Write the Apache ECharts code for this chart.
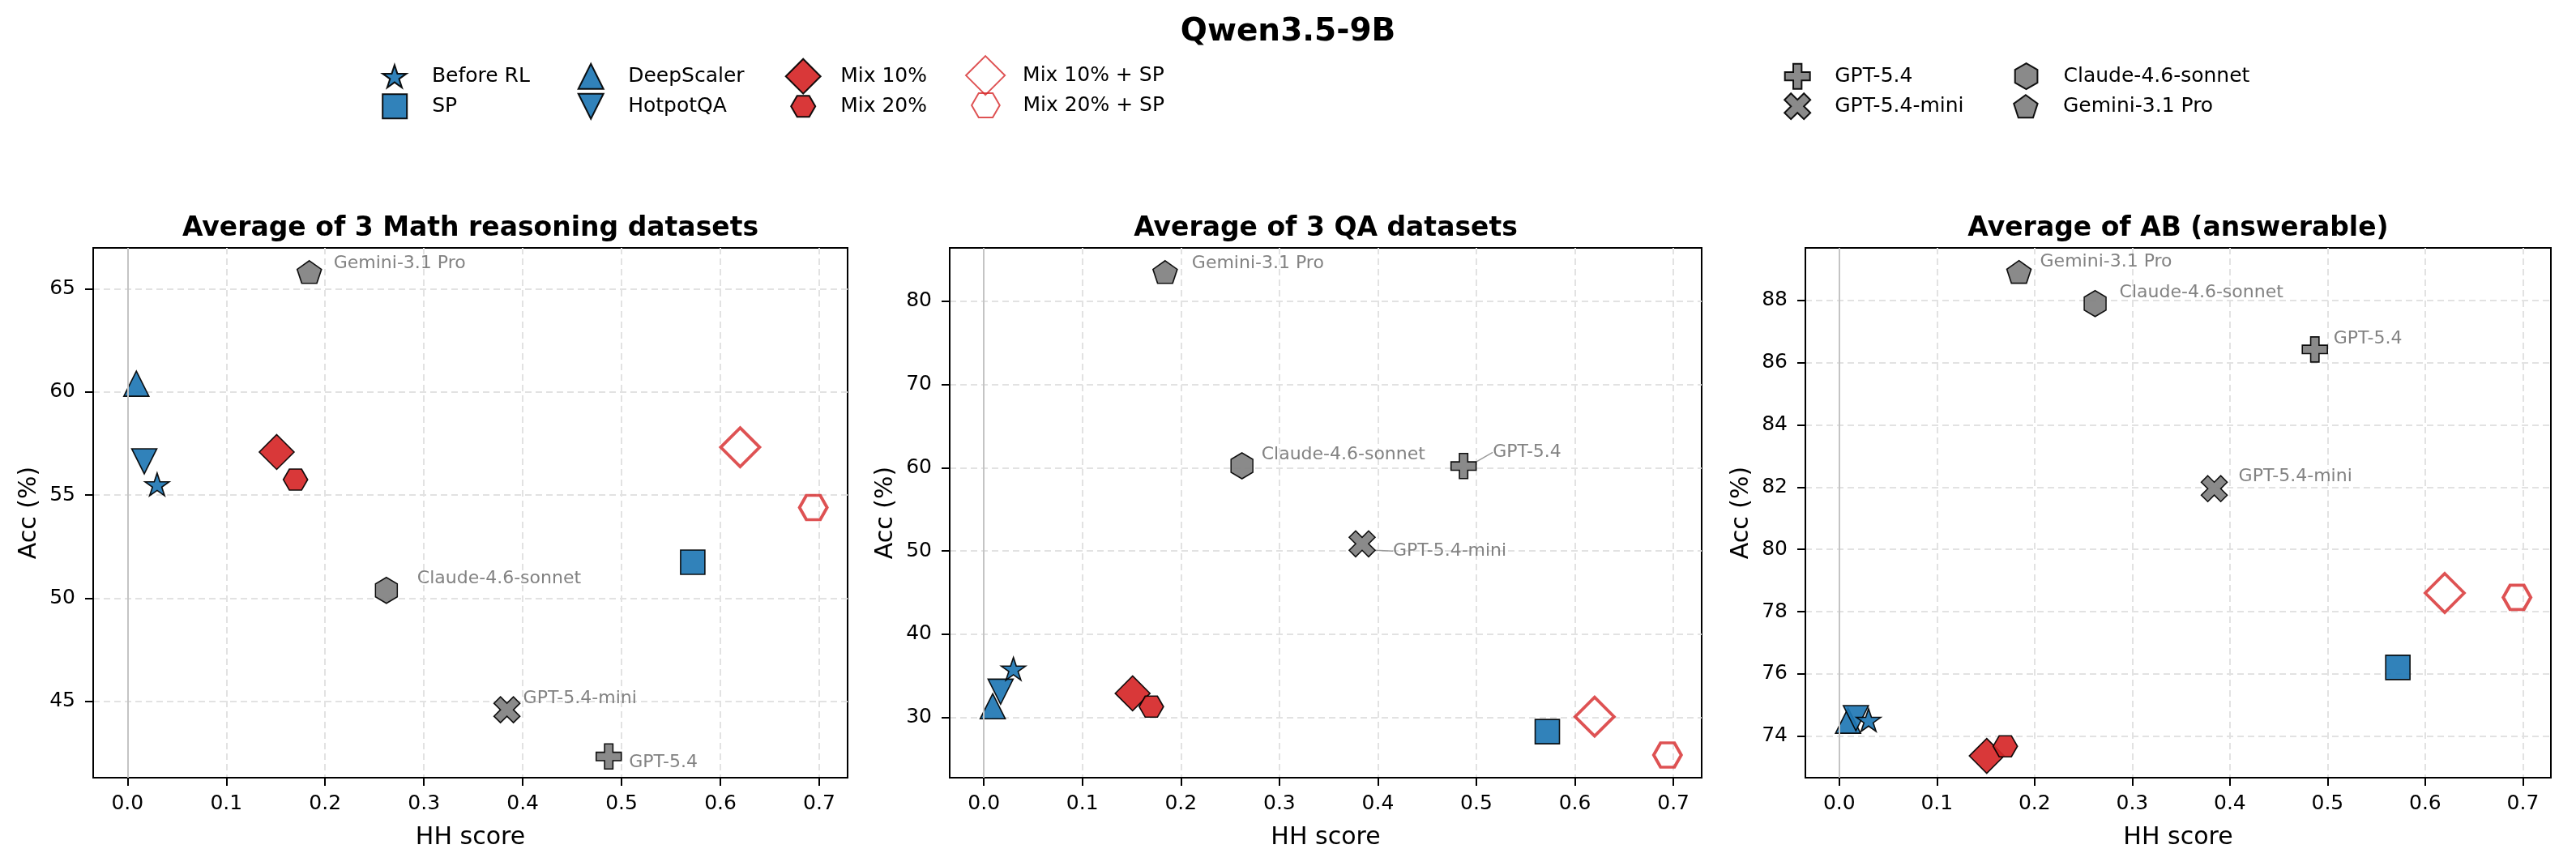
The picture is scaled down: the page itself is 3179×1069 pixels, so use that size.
<!DOCTYPE html>
<html>
<head>
<meta charset="utf-8">
<title>Qwen3.5-9B</title>
<script src="https://cdn.jsdelivr.net/npm/echarts@6/dist/echarts.min.js"></script>
<style>
  html, body { margin: 0; padding: 0; background: #fff; }
  #main { width: 3179px; height: 1069px; }
</style>
</head>
<body>
<div id="main"></div>
<script>
// data
const methods = ['Before RL', 'SP', 'DeepScaler', 'HotpotQA', 'Mix 10%', 'Mix 20%',
  'Mix 10% + SP', 'Mix 20% + SP', 'GPT-5.4', 'GPT-5.4-mini', 'Claude-4.6-sonnet', 'Gemini-3.1 Pro'];
const hhScore = [0.030, 0.572, 0.009, 0.017, 0.151, 0.170, 0.620, 0.694, 0.487, 0.384, 0.262, 0.184];
const mathAcc = [55.52, 51.75, 60.40, 56.64, 57.09, 55.75, 57.32, 54.40, 42.34, 44.60, 50.39, 65.81];
const qaAcc = [35.85, 28.30, 31.35, 33.10, 32.90, 31.30, 30.10, 25.50, 60.20, 50.86, 60.23, 83.50];
const abAcc = [74.52, 76.21, 74.50, 74.58, 73.37, 73.68, 78.60, 78.46, 86.42, 81.95, 87.89, 88.91];

const hhTicks = [0, 0.1, 0.2, 0.3, 0.4, 0.5, 0.6, 0.7];
const mathTicks = [45, 50, 55, 60, 65];
const qaTicks = [30, 40, 50, 60, 70, 80];
const abTicks = [74, 76, 78, 80, 82, 84, 86, 88];

const panelTitles = ['Average of 3 Math reasoning datasets', 'Average of 3 QA datasets', 'Average of AB (answerable)'];
// legend layout: column-major, two rows per column
const legendCols = [
  ['Before RL', 'SP'], ['DeepScaler', 'HotpotQA'], ['Mix 10%', 'Mix 20%'],
  ['Mix 10% + SP', 'Mix 20% + SP'], ['GPT-5.4', 'GPT-5.4-mini'], ['Claude-4.6-sonnet', 'Gemini-3.1 Pro']
];

const FONT = 'DejaVu Sans';
const BLUE = '#1f77b4', RED = '#d62728', GREY = '#808080';

// marker shapes
function poly(pts) {
  return 'path://M' + pts.map(p => p[0].toFixed(4) + ',' + p[1].toFixed(4)).join('L') + 'Z';
}
function ring(n, start, r, rIn) {
  const pts = [];
  const k = rIn ? 2 * n : n;
  for (let i = 0; i < k; i++) {
    const a = (start + i * 360 / k) * Math.PI / 180;
    const rr = rIn && i % 2 ? rIn : r;
    pts.push([rr * Math.cos(a), rr * Math.sin(a)]);
  }
  return pts;
}
const plusPts = [[-3,-1],[-1,-1],[-1,-3],[1,-3],[1,-1],[3,-1],[3,1],[1,1],[1,3],[-1,3],[-1,1],[-3,1]];
const rot = (pts, deg) => pts.map(p => {
  const a = deg * Math.PI / 180;
  return [p[0] * Math.cos(a) - p[1] * Math.sin(a), p[0] * Math.sin(a) + p[1] * Math.cos(a)];
});
const shapes = {
  star: poly(ring(5, -90, 1, 0.382)),
  square: poly([[0,0],[1,0],[1,1],[0,1]]),
  triUp: poly([[0,-1],[1,1],[-1,1]]),
  triDown: poly([[-1,-1],[1,-1],[0,1]]),
  diamond: poly([[0,-1],[1,0],[0,1],[-1,0]]),
  hexFlat: poly(ring(6, 0, 1)),
  hexPointy: poly(ring(6, -90, 1)),
  pentagon: poly(ring(5, -90, 1)),
  plus: poly(plusPts),
  cross: poly(rot(plusPts, 45))
};

// per-method style, same order as methods
const markerStyle = [
  { shape: 'star', size: [30, 28], color: BLUE },
  { shape: 'square', size: [30, 30], color: BLUE },
  { shape: 'triUp', size: [31, 31], color: BLUE },
  { shape: 'triDown', size: [31, 31], color: BLUE },
  { shape: 'diamond', size: [43, 43], color: RED },
  { shape: 'hexFlat', size: [30, 26], color: RED },
  { shape: 'diamond', size: [48, 48], color: RED, hollow: true },
  { shape: 'hexFlat', size: [34, 30], color: RED, hollow: true },
  { shape: 'plus', size: [31, 31], color: GREY },
  { shape: 'cross', size: [32, 32], color: GREY },
  { shape: 'hexPointy', size: [27, 32], color: GREY },
  { shape: 'pentagon', size: [30, 28], color: GREY }
];
const drawOrder = [8, 9, 10, 11, 2, 3, 0, 4, 5, 1, 6, 7];

// label offsets (px from marker centre) for the reference models, per panel;
// a third entry true means the label is pulled away with a leader line
const labelOffsets = [
  { 8: [25, 8], 9: [20, -14], 10: [38, -14], 11: [30, -11] },
  { 8: [36, -17, true], 9: [38, 9, true], 10: [24, -14], 11: [33, -11] },
  { 8: [23, -13], 9: [30, -15], 10: [30, -14], 11: [26, -12] }
];

const panels = [
  { acc: mathAcc, ticks: mathTicks, ymin: 41.31, ymax: 66.98 },
  { acc: qaAcc, ticks: qaTicks, ymin: 22.77, ymax: 86.40 },
  { acc: abAcc, ticks: abTicks, ymin: 72.67, ymax: 89.68 }
];
const gridBox = [[115, 1046], [1172, 2100], [2228, 3148]];
const W = 3179;

const grid = [], xAxis = [], yAxis = [], series = [], title = [];

title.push({
  text: 'Qwen3.5-9B', left: 'center', top: 20, padding: 0,
  textStyle: { fontSize: 39, fontWeight: 'bold', color: '#000', fontFamily: FONT }
});

panels.forEach((p, i) => {
  const [l, r] = gridBox[i];
  grid.push({
    left: l, right: W - r, top: 306, bottom: 109,
    show: true, borderColor: '#000', borderWidth: 2, backgroundColor: '#fff',
    outerBoundsMode: 'none'
  });
  title.push({
    text: panelTitles[i], left: (l + r) / 2, textAlign: 'center', top: 266, padding: 0,
    textStyle: { fontSize: 33, fontWeight: 'bold', color: '#000', fontFamily: FONT }
  });
  const common = {
    gridIndex: i, type: 'value', nameLocation: 'middle',
    nameTextStyle: { fontSize: 30, color: '#000', fontFamily: FONT },
    axisLine: { show: true, onZero: false, lineStyle: { color: '#000', width: 2 } },
    splitLine: { show: true, lineStyle: { color: '#e2e2e2', width: 2, type: [8, 5] } }
  };
  xAxis.push(Object.assign({}, common, {
    min: -0.0347, max: 0.7287, name: 'HH score', nameGap: 59,
    axisTick: { show: true, length: 10, lineStyle: { color: '#000', width: 2 }, customValues: hhTicks },
    axisLabel: { customValues: hhTicks, formatter: v => v.toFixed(1), fontSize: 25, color: '#000', margin: 20, fontFamily: FONT }
  }));
  yAxis.push(Object.assign({}, common, {
    min: p.ymin, max: p.ymax, name: 'Acc (%)', nameGap: 64,
    axisTick: { show: true, length: 10, lineStyle: { color: '#000', width: 2 }, customValues: p.ticks },
    axisLabel: { customValues: p.ticks, fontSize: 25, color: '#000', margin: 22, fontFamily: FONT }
  }));

  // vertical reference line at HH = 0
  series.push({
    type: 'scatter', xAxisIndex: i, yAxisIndex: i, data: [], silent: true, z: 1,
    markLine: {
      silent: true, symbol: 'none', animation: false,
      label: { show: false },
      lineStyle: { color: '#c4c4c4', width: 2, type: 'solid' },
      data: [{ xAxis: 0 }]
    }
  });

  drawOrder.forEach(k => {
    const st = markerStyle[k];
    const off = labelOffsets[i][k];
    const s = {
      type: 'scatter', name: methods[k], xAxisIndex: i, yAxisIndex: i, z: 3,
      symbol: shapes[st.shape], symbolSize: st.size, symbolKeepAspect: false,
      itemStyle: st.hollow
        ? { color: 'rgba(255,255,255,0)', borderColor: st.color, borderWidth: 3.8 }
        : { color: st.color, opacity: 0.92, borderColor: '#000', borderWidth: 1.6 },
      label: { show: false },
      emphasis: { disabled: true },
      data: [[hhScore[k], p.acc[k]]]
    };
    if (off) {
      s.label = {
        show: true, position: 'inside', align: 'left', verticalAlign: 'middle',
        offset: off[2] ? [0, 0] : [off[0], off[1]],
        formatter: methods[k], fontSize: 22, color: '#777777', fontFamily: FONT
      };
      if (off[2]) {
        s.labelLayout = { dx: off[0], dy: off[1] };
        s.labelLine = { show: true, lineStyle: { color: '#9a9a9a', width: 1.5 } };
      }
    }
    series.push(s);
  });
});

// one legend per entry so each icon keeps its own marker size;
// the legend box starts at the drawn icon's left edge
const colX = [487, 729, 991, 1217, 2218, 2500];
const rowY = [94, 131];
const legend = [];
legendCols.forEach((names, c) => {
  names.forEach((name, r) => {
    const st = markerStyle[methods.indexOf(name)];
    const [w, h] = st.size;
    const edge = st.hollow ? 1.9 : 0.8;
    legend.push({
      orient: 'vertical', left: colX[c] - w / 2 - edge, top: rowY[r] - h / 2 - edge, padding: 0,
      itemWidth: 82, itemHeight: h, symbolKeepAspect: true,
      selectedMode: false, data: [name],
      textStyle: { fontSize: 25, color: '#000', fontFamily: FONT }
    });
  });
});

const chart = echarts.init(document.getElementById('main'));
chart.setOption({
  animation: false,
  backgroundColor: '#fff',
  textStyle: { fontFamily: FONT },
  title: title,
  legend: legend,
  grid: grid,
  xAxis: xAxis,
  yAxis: yAxis,
  series: series
});
</script>
</body>
</html>
